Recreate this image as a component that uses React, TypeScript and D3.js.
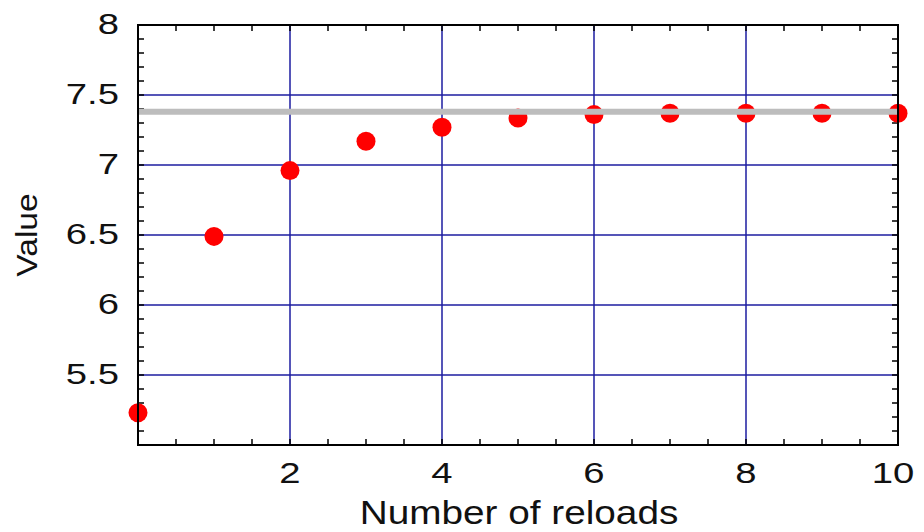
import React, { useEffect, useRef } from 'react';
import * as d3 from 'd3';

// reload count vs. value
const reloads = [0, 1, 2, 3, 4, 5, 6, 7, 8, 9, 10];
const values = [5.23, 6.49, 6.96, 7.17, 7.27, 7.335, 7.36, 7.37, 7.37, 7.37, 7.37];
const limitValue = 7.38;

const xTicks = [2, 4, 6, 8, 10];
const yTicks = [5.5, 6, 6.5, 7, 7.5, 8];
const xGrid = [2, 4, 6, 8];
const yGrid = [5.5, 6, 6.5, 7, 7.5];

const WIDTH = 924;
const HEIGHT = 532;

const App = () => {
  const svgRef = useRef<SVGSVGElement | null>(null);

  useEffect(() => {
    const svg = d3.select(svgRef.current);
    svg.selectAll('*').remove();

    const margin = { top: 25, right: 26, bottom: 87, left: 138 };
    const x = d3.scaleLinear().domain([0, 10]).range([margin.left, WIDTH - margin.right]);
    const y = d3.scaleLinear().domain([5, 8]).range([HEIGHT - margin.bottom, margin.top]);
    const font = '"Liberation Sans", Arial, sans-serif';

    svg.append('rect').attr('width', WIDTH).attr('height', HEIGHT).attr('fill', '#fff');

    // grid
    const grid = svg.append('g').attr('stroke', '#1c1ca0').attr('stroke-width', 1.5);
    xGrid.forEach(v => {
      grid.append('line')
        .attr('x1', x(v)).attr('x2', x(v))
        .attr('y1', y(5)).attr('y2', y(8));
    });
    yGrid.forEach(v => {
      grid.append('line')
        .attr('x1', x(0)).attr('x2', x(10))
        .attr('y1', y(v)).attr('y2', y(v));
    });

    // minor ticks, pointing inward on all four sides
    const ticks = svg.append('g').attr('stroke', '#000').attr('stroke-width', 1.5);
    d3.range(1, 20).forEach(i => {
      const v = i * 0.5;
      ticks.append('line').attr('x1', x(v)).attr('x2', x(v)).attr('y1', y(5)).attr('y2', y(5) - 6);
      ticks.append('line').attr('x1', x(v)).attr('x2', x(v)).attr('y1', y(8)).attr('y2', y(8) + 6);
    });
    d3.range(1, 30).forEach(i => {
      const v = 5 + i * 0.1;
      ticks.append('line').attr('x1', x(0)).attr('x2', x(0) + 6).attr('y1', y(v)).attr('y2', y(v));
      ticks.append('line').attr('x1', x(10)).attr('x2', x(10) - 6).attr('y1', y(v)).attr('y2', y(v));
    });

    // points
    svg.append('g')
      .selectAll('circle')
      .data(reloads)
      .enter()
      .append('circle')
      .attr('cx', d => x(d))
      .attr('cy', (d, i) => y(values[i]))
      .attr('r', 9.5)
      .attr('fill', '#ff0000');

    // limit line
    svg.append('line')
      .attr('x1', x(0)).attr('x2', x(10))
      .attr('y1', y(limitValue)).attr('y2', y(limitValue))
      .attr('stroke', '#bdbdbd')
      .attr('stroke-width', 6);

    // frame
    svg.append('rect')
      .attr('x', x(0)).attr('y', y(8))
      .attr('width', x(10) - x(0)).attr('height', y(5) - y(8))
      .attr('fill', 'none')
      .attr('stroke', '#000')
      .attr('stroke-width', 2);

    // the original text is stretched sideways, so labels get a horizontal scale
    svg.append('g')
      .selectAll('text')
      .data(yTicks)
      .enter()
      .append('text')
      .attr('transform', d => `translate(${x(0) - 19},${y(d) + 9}) scale(1.32,1)`)
      .attr('text-anchor', 'end')
      .style('font-family', font)
      .style('font-size', '29px')
      .style('fill', '#111')
      .text(d => d);

    svg.append('g')
      .selectAll('text')
      .data(xTicks)
      .enter()
      .append('text')
      .attr('transform', d => `translate(${x(d) - (d === 10 ? 5 : 0)},${y(5) + 38}) scale(1.32,1)`)
      .attr('text-anchor', 'middle')
      .style('font-family', font)
      .style('font-size', '29px')
      .style('fill', '#111')
      .text(d => d);

    // axis titles
    svg.append('text')
      .attr('transform', 'translate(519,524) scale(1.14,1)')
      .attr('text-anchor', 'middle')
      .style('font-family', font)
      .style('font-size', '34px')
      .style('fill', '#111')
      .text('Number of reloads');

    svg.append('text')
      .attr('transform', 'translate(37,235) rotate(-90) scale(1.12,1)')
      .attr('text-anchor', 'middle')
      .style('font-family', font)
      .style('font-size', '30px')
      .style('fill', '#111')
      .text('Value');
  }, []);

  return (
    <svg
      ref={svgRef}
      width={WIDTH}
      height={HEIGHT}
      style={{ position: 'absolute', left: 0, top: 0, display: 'block' }}
    />
  );
};

export default App;
